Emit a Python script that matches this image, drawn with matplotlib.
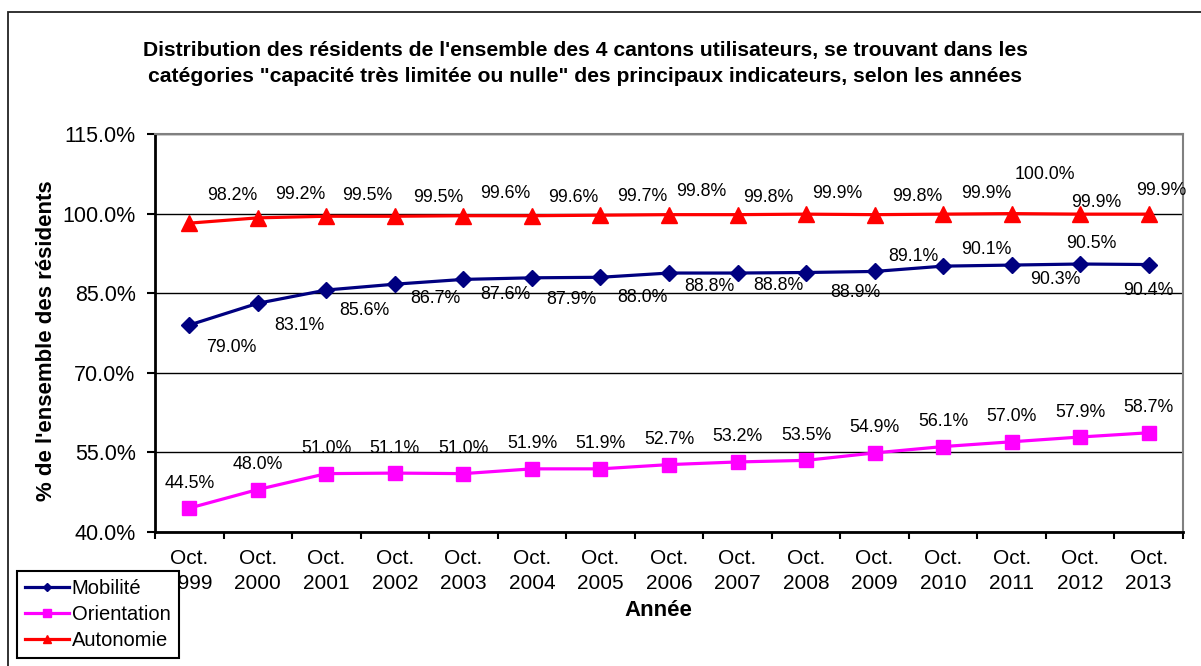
import numpy as np
import matplotlib
matplotlib.use("Agg")
import matplotlib.pyplot as plt
from matplotlib.patches import Rectangle
from matplotlib.ticker import FuncFormatter

plt.rcParams['font.family'] = ['Liberation Sans', 'DejaVu Sans']

# données
annees = ['1999', '2000', '2001', '2002', '2003', '2004', '2005', '2006',
          '2007', '2008', '2009', '2010', '2011', '2012', '2013']
tick_labels = ['Oct.\n' + a for a in annees]

mobilite = [79.0, 83.1, 85.6, 86.7, 87.6, 87.9, 88.0, 88.8, 88.8, 88.9,
            89.1, 90.1, 90.3, 90.5, 90.4]
orientation = [44.5, 48.0, 51.0, 51.1, 51.0, 51.9, 51.9, 52.7, 53.2, 53.5,
               54.9, 56.1, 57.0, 57.9, 58.7]
autonomie = [98.2, 99.2, 99.5, 99.5, 99.6, 99.6, 99.7, 99.8, 99.8, 99.9,
             99.8, 99.9, 100.0, 99.9, 99.9]

# décalage des étiquettes (pixels), placées à la main comme dans Excel
off_mob = [(42, -22), (42, -22), (38, -20), (41, -14), (42, -15), (39, -22),
           (42, -20), (40, -13), (41, -12), (49, -20), (39, 15), (43, 17),
           (44, -14), (11, 21), (0, -26)]
off_ori = [(0, 25)] * 15
off_aut = [(43, 28), (42, 23), (41, 21), (43, 19), (42, 22), (41, 18),
           (42, 19), (32, 23), (31, 17), (31, 21), (43, 18), (43, 21),
           (33, 39), (16, 12), (13, 24)]

W, H = 1201, 666
fig = plt.figure(figsize=(W / 100, H / 100), dpi=100)
ax = fig.add_axes([155 / W, (H - 532) / H, 1028 / W, 398 / H])

x = np.arange(len(annees))
series = [
    ('Mobilité', mobilite, '#000080', 'D', 8.3, off_mob),
    ('Orientation', orientation, '#FF00FF', 's', 10.0, off_ori),
    ('Autonomie', autonomie, '#FF0000', '^', 11.0, off_aut),
]
for nom, vals, col, mk, ms, offs in series:
    ax.plot(x, vals, color=col, marker=mk, ms=ms, lw=2.3, label=nom,
            markeredgecolor=col, clip_on=False, zorder=3)
    for i, v in enumerate(vals):
        ax.annotate(f'{v:.1f}%', (i, v), xytext=offs[i], textcoords='offset pixels',
                    ha='center', va='center', fontsize=12.8, zorder=4)

ax.set_xlim(-0.5, len(annees) - 0.5)
ax.set_ylim(40, 115)
ax.set_yticks([40, 55, 70, 85, 100, 115])
ax.yaxis.set_major_formatter(FuncFormatter(lambda v, p: f'{v:.1f}%'))
ax.yaxis.grid(True, color='black', lw=1.0)
ax.tick_params(axis='y', direction='out', length=6, width=1.5, pad=8, labelsize=15.5)

ax.set_xticks(np.arange(-0.5, len(annees), 1))
ax.set_xticklabels([])
ax.set_xticks(x, minor=True)
ax.set_xticklabels(tick_labels, minor=True, linespacing=1.4)
ax.tick_params(axis='x', which='major', direction='out', length=5, width=1.5)
ax.tick_params(axis='x', which='minor', length=0, pad=12, labelsize=15)

for s in ['left', 'bottom']:
    ax.spines[s].set_color('black')
    ax.spines[s].set_linewidth(2)
for s in ['top', 'right']:
    ax.spines[s].set_color('#808080')
    ax.spines[s].set_linewidth(1.5)

# titre et libellés
fig.text(585 / W, 1 - 56 / H,
         "Distribution des résidents de l'ensemble des 4 cantons utilisateurs, se trouvant dans les",
         ha='center', va='baseline', fontsize=15.2, fontweight='bold')
fig.text(585 / W, 1 - 82 / H,
         "catégories \"capacité très limitée ou nulle\" des principaux indicateurs, selon les années",
         ha='center', va='baseline', fontsize=15.2, fontweight='bold')
fig.text(47 / W, 1 - 341 / H, "% de l'ensemble des résidents", rotation=90,
         ha='center', va='center', fontsize=16, fontweight='bold')
fig.text(658 / W, 1 - 611 / H, "Année", ha='center', va='center',
         fontsize=16, fontweight='bold')

leg = fig.legend(loc='upper left', bbox_to_anchor=(17 / W, 1 - 571 / H),
                 fontsize=14.5, frameon=True, fancybox=False, framealpha=1,
                 edgecolor='black', markerscale=0.55, handlelength=2.15,
                 handletextpad=0.15, labelspacing=0.33, borderpad=0.42,
                 borderaxespad=0)
leg.get_frame().set_linewidth(1.5)

# cadre du graphique
fig.patches.append(Rectangle((8 / W, -0.1), 1.2, 1.1 - 12 / H, transform=fig.transFigure,
                             fill=False, edgecolor='#222222', lw=1.3))

fig.savefig('out.png', dpi=100)
